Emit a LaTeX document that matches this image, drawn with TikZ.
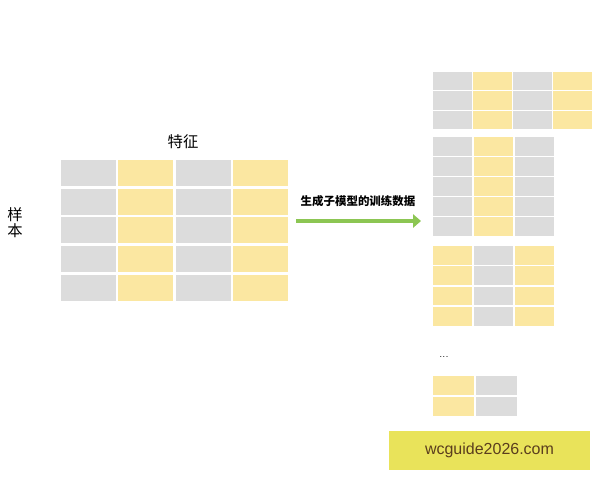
\documentclass[tikz,border=0pt]{standalone}
\usepackage{fontspec}
\setsansfont{Liberation Sans}
\newfontfamily\cjk{Noto Sans CJK SC}
\usetikzlibrary{arrows.meta}

\definecolor{cellgray}{HTML}{DCDCDC}
\definecolor{cellyellow}{HTML}{FBE7A1}
\definecolor{arrowgreen}{HTML}{8CC653}
\definecolor{markyellow}{HTML}{E9E35A}
\definecolor{marktext}{HTML}{5B3E1E}

\tikzset{
	bigcell/.style={inner sep=0pt, minimum width=41.25pt, minimum height=19.5pt},
	smallcell/.style={inner sep=0pt, minimum width=29pt, minimum height=14pt},
	label/.style={inner sep=0pt, font=\cjk\fontsize{11.5}{12}\selectfont, align=center},
	greenarrow/.style={arrowgreen, line width=3.6pt, -{Triangle[length=6pt, width=10pt]}}
}

\begin{document}
\begin{tikzpicture}[x=0.75pt, y=-0.75pt]
	\useasboundingbox (0,0) rectangle (600,480);
	% full data: samples x features
	\foreach \c [count=\i from 0] in {cellgray,cellyellow,cellgray,cellyellow}
		\foreach \j in {0,...,4}
			\node[bigcell, fill=\c] (s\i\j) at ({88.5+57.3*\i},{173+28.7*\j}) {};
	\node[label] (feature) at (183,142) {特征};
	\node[label] (sample) at (15,223) {样\\本};
	% arrow
	\coordinate (arrowstart) at (296,221);
	\coordinate (arrowend) at (421,221);
	\draw[greenarrow] (arrowstart) -- (arrowend);
	\node[inner sep=0pt, font=\cjk\bfseries\fontsize{8.6}{10}\selectfont] (arrowlabel) at (358,201) {生成子模型的训练数据};
	% sub-model data
	\foreach \c [count=\i from 0] in {cellgray,cellyellow,cellgray,cellyellow}
		\foreach \j in {0,...,2}
			\node[smallcell, fill=\c] (a\i\j) at ({452.5+40*\i},{81+19.5*\j}) {};
	\foreach \c [count=\i from 0] in {cellgray,cellyellow,cellgray}
		\foreach \j in {0,...,4}
			\node[smallcell, fill=\c] (b\i\j) at ({452.5+41*\i},{146.5+20*\j}) {};
	\foreach \c [count=\i from 0] in {cellyellow,cellgray,cellyellow}
		\foreach \j in {0,...,3}
			\node[smallcell, fill=\c] (c\i\j) at ({452.5+41*\i},{255.5+20.3*\j}) {};
	\node[inner sep=0pt, font=\fontsize{7}{8}\selectfont] (dots) at (444,357) {...};
	\foreach \c [count=\i from 0] in {cellyellow,cellgray}
		\foreach \j in {0,...,1}
			\node[smallcell, minimum width=30.75pt, fill=\c] (d\i\j) at ({453.5+43*\i},{385.5+21*\j}) {};
	% watermark
	\node[fill=markyellow, text=marktext, minimum width=150.75pt, minimum height=29.25pt,
		font=\sffamily\fontsize{12}{14}\selectfont] (mark) at (489.5,450.5) {wcguide2026.com};
\end{tikzpicture}
\end{document}
